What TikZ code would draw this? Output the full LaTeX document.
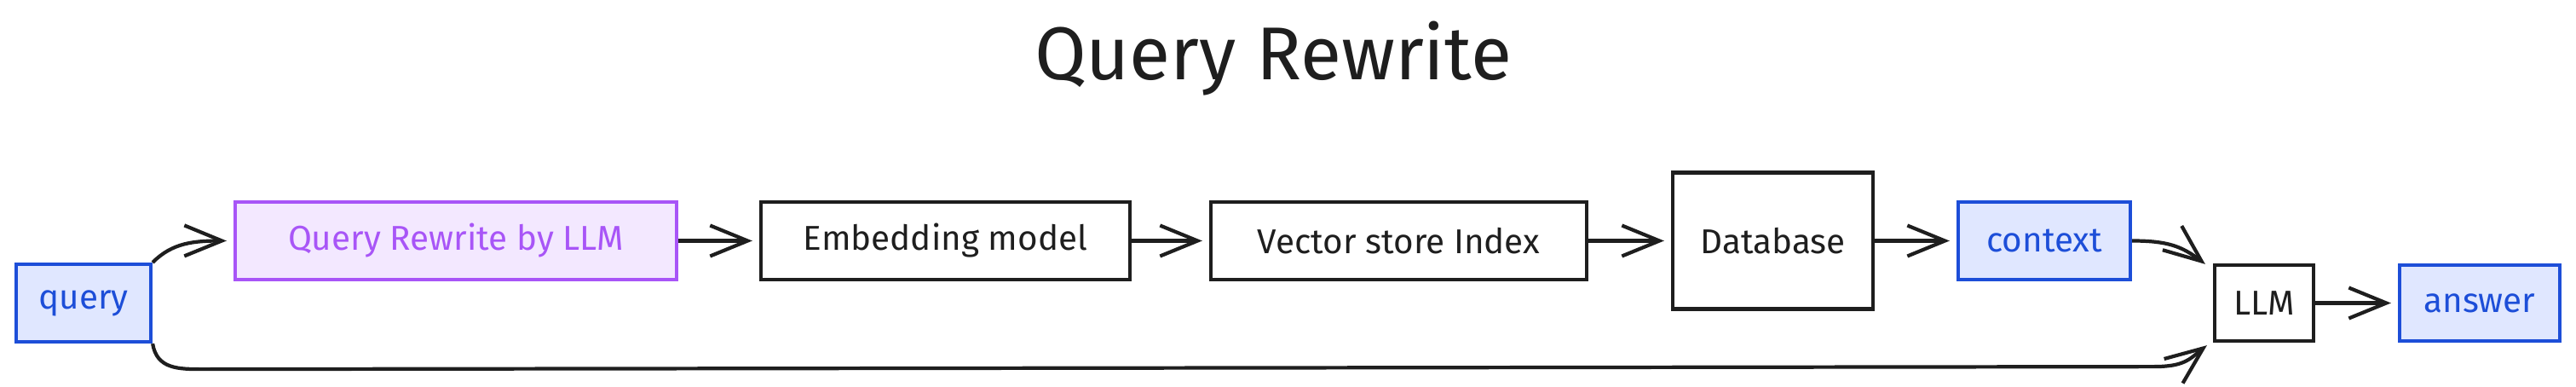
\documentclass[tikz,border=0pt]{standalone}
\usepackage{fontspec}
\setmainfont{Fira Sans}
\usetikzlibrary{arrows.meta,bending}
\definecolor{ink}{HTML}{1E1E1E}
\definecolor{qblue}{HTML}{1D4ED8}
\definecolor{qbluefill}{HTML}{E0E7FF}
\definecolor{qpurple}{HTML}{A855F7}
\definecolor{qpurplefill}{HTML}{F3E8FF}

\begin{document}
\begin{tikzpicture}[every node/.style={font=\fontsize{11.5}{14}\selectfont, inner sep=0pt}, >={Straight Barb[length=4.4mm,width=3.6mm,flex]},
	box/.style={draw=ink, line width=1.2pt, text=ink, minimum height=0.91cm},
	bluebox/.style={box, draw=qblue, fill=qbluefill, text=qblue},
	purplebox/.style={box, draw=qpurple, fill=qpurplefill, text=qpurple}]
	\useasboundingbox (0,0) rectangle (30.23,-4.53);
	\node[font=\fontsize{25}{30}\selectfont, text=ink, anchor=base] (title) at (14.94,-0.93) {Query Rewrite};
	\node[bluebox, minimum width=1.58cm] (query) at (0.98,-3.555) {query};
	\node[purplebox, minimum width=5.18cm] (qrw) at (5.35,-2.825) {Query Rewrite by LLM};
	\node[box, minimum width=4.33cm] (emb) at (11.095,-2.825) {Embedding model};
	\node[box, minimum width=4.41cm] (vec) at (16.415,-2.825) {Vector store Index};
	\node[box, minimum width=2.35cm, minimum height=1.6cm] (db) at (20.805,-2.825) {Database};
	\node[bluebox, minimum width=2.02cm] (ctx) at (23.99,-2.825) {context};
	\node[box, minimum width=1.16cm, minimum height=0.89cm] (llm) at (26.57,-3.555) {LLM};
	\node[bluebox, minimum width=1.88cm, minimum height=0.89cm] (ans) at (29.1,-3.555) {answer};
	\begin{scope}[draw=ink, line width=1.2pt]
		\foreach \a/\b in {qrw/emb, emb/vec, vec/db, db/ctx, llm/ans}
			\draw[->, shorten >=0.8mm] (\a) -- (\b);
		\draw[->, shorten >=0.8mm] (query.north east) to[out=45,in=180] (qrw.west);
		\draw[->] (ctx.east) .. controls +(0.45,0) and +(-0.25,0.2) .. ([shift={(-0.09,-0.01)}]llm.north west);
		\draw[->] (query.south east) .. controls +(0.05,-0.3) and +(-0.3,0) .. ([xshift=6mm,yshift=-3mm]query.south east)
			-- ([xshift=-7mm,yshift=-2.8mm]llm.south west) .. controls +(0.4,0) and +(-0.2,-0.15) .. ([shift={(-0.07,-0.03)}]llm.south west);
	\end{scope}
\end{tikzpicture}
\end{document}
